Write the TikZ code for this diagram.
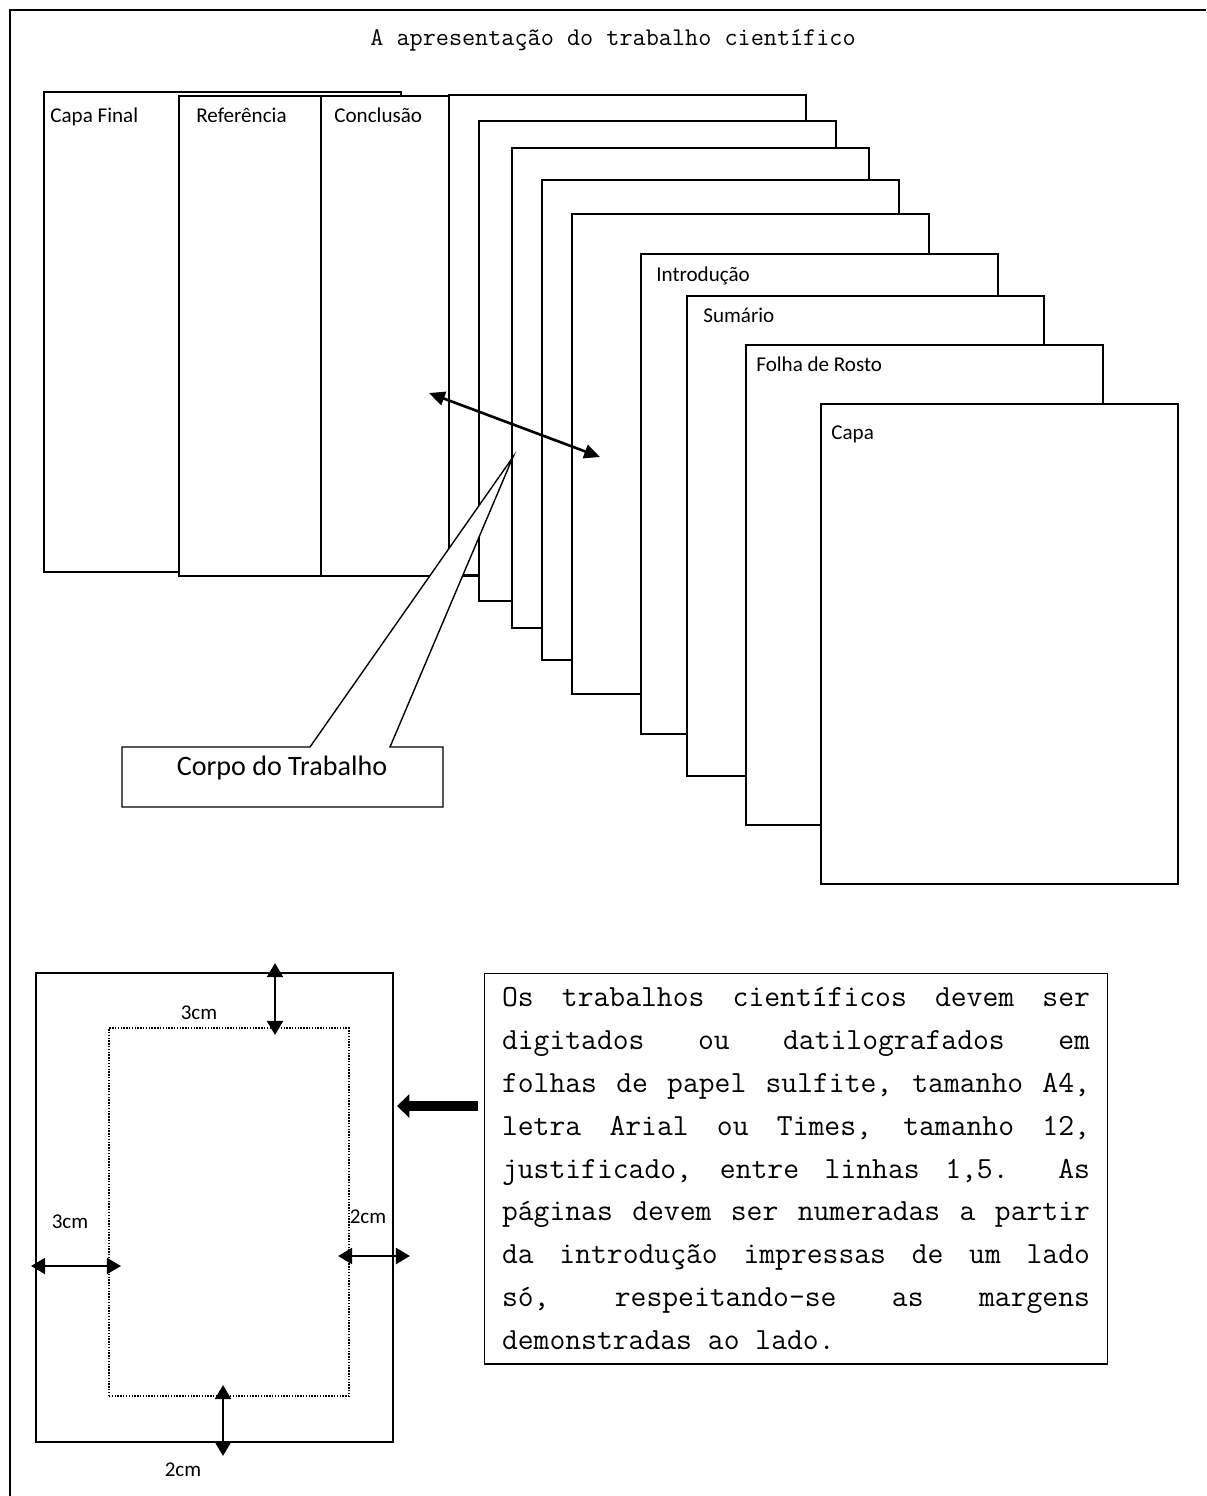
\documentclass[tikz,border=0pt]{standalone}
\usepackage{fontspec}
\newfontfamily\calib{Carlito}
\usetikzlibrary{arrows.meta,positioning}

\begin{document}
\begin{tikzpicture}[x=0.02cm,y=-0.02cm,
    page/.style={draw, fill=white, line width=1pt, anchor=north west,
        inner sep=0pt, minimum width=7.14cm, minimum height=9.6cm},
    lbl/.style={font=\calib\fontsize{12}{14}\selectfont, anchor=base west, inner sep=0pt},
    dupla/.style={{Triangle[length=9pt,width=8pt]}-{Triangle[length=9pt,width=8pt]}, line width=1.5pt},
    margem/.style={{Triangle[length=8pt,width=9pt]}-{Triangle[length=8pt,width=9pt]}, line width=1.5pt},
    seta/.style={-{Triangle[length=7pt,width=13pt]}, line width=6pt}]

\useasboundingbox (0,0) rectangle (1206,1496);
\draw[line width=0.7pt] (1206,10) -- (10,10) -- (10,1496);

\node[font=\ttfamily\fontsize{14.5}{17}\selectfont] (titulo) at (613,40) {A apresentação do trabalho científico};

% folhas, de tras para a frente
\foreach \n/\x/\y in {cfinal/43/91, ref/178/95, concl/320/95, c1/448/94, c2/478/120,
    c3/511/147, c4/541/179, c5/571/213, intro/640/253, sum/686/295, rosto/745/344, capa/820/403}
    \node[page] (\n) at (\x,\y) {};

\foreach \n/\dx/\dy/\t in {cfinal/7/32/Capa Final, ref/18/28/Referência, concl/14/28/Conclusão,
    intro/16/29/Introdução, sum/17/28/Sumário, rosto/11/28/Folha de Rosto, capa/11/36/Capa}
    \node[lbl] (t\n) at ([shift={(\dx,\dy)}]\n.north west) {\t};

% balao
\coordinate (ponta) at (513,457);
\draw[line width=0.8pt, fill=white] (122,747) -- (310,747) -- (ponta) -- (390,747)
    -- (443,747) -- (443,807) -- (122,807) -- cycle;
\node[font=\calib\fontsize{16}{19}\selectfont] (corpo) at (282,768) {Corpo do Trabalho};

\coordinate (d1) at (429,393);
\coordinate (d2) at (600,457);
\draw[dupla] (d1) -- (d2);

% margens
\node[draw, line width=1.1pt, inner sep=0pt, minimum width=7.14cm, minimum height=9.38cm] (folha) at (214.5,1207.5) {};
\node[draw, line width=0.8pt, dash pattern=on 0.8pt off 0.8pt, inner sep=0pt,
    minimum width=4.8cm, minimum height=7.36cm] (mancha) at (229,1212) {};

\coordinate (mt1) at (275,963);  \coordinate (mt2) at (275,1035);
\coordinate (mb1) at (223,1385); \coordinate (mb2) at (223,1456);
\coordinate (ml1) at (31,1266);  \coordinate (ml2) at (121,1266);
\coordinate (mr1) at (338,1256); \coordinate (mr2) at (410,1256);
\draw[margem] (mt1) -- (mt2);
\draw[margem] (mb1) -- (mb2);
\draw[margem] (ml1) -- (ml2);
\draw[margem] (mr1) -- (mr2);

\node[lbl, anchor=center] (m1) at (199,1013) {3cm};
\node[lbl, anchor=center] (m2) at (70,1222) {3cm};
\node[lbl, anchor=center] (m3) at (368,1217) {2cm};
\node[lbl, anchor=center] (m4) at (183,1470) {2cm};

% texto
\node[draw, line width=0.6pt, inner sep=0pt, minimum width=12.48cm, minimum height=7.82cm,
    font=\ttfamily\fontsize{17.5}{24.4}\selectfont]
    (regras) at (796,1168.5) {\parbox{11.76cm}{\spaceskip=0.525em plus 1fil\relax
    \makebox[\linewidth][s]{Os trabalhos científicos devem ser}\\
    \makebox[\linewidth][s]{digitados ou datilografados em}\\
    \makebox[\linewidth][s]{folhas de papel sulfite, tamanho A4,}\\
    \makebox[\linewidth][s]{letra Arial ou Times, tamanho 12,}\\
    \makebox[\linewidth][s]{justificado, entre linhas 1,5. As}\\
    \makebox[\linewidth][s]{páginas devem ser numeradas a partir}\\
    \makebox[\linewidth][s]{da introdução impressas de um lado}\\
    \makebox[\linewidth][s]{só, respeitando-se as margens}\\
    {\spaceskip=0pt\relax demonstradas ao lado.}}};

\coordinate (s1) at (478,1106);
\coordinate (s2) at (397,1106);
\draw[seta] (s1) -- (s2);
\end{tikzpicture}
\end{document}
